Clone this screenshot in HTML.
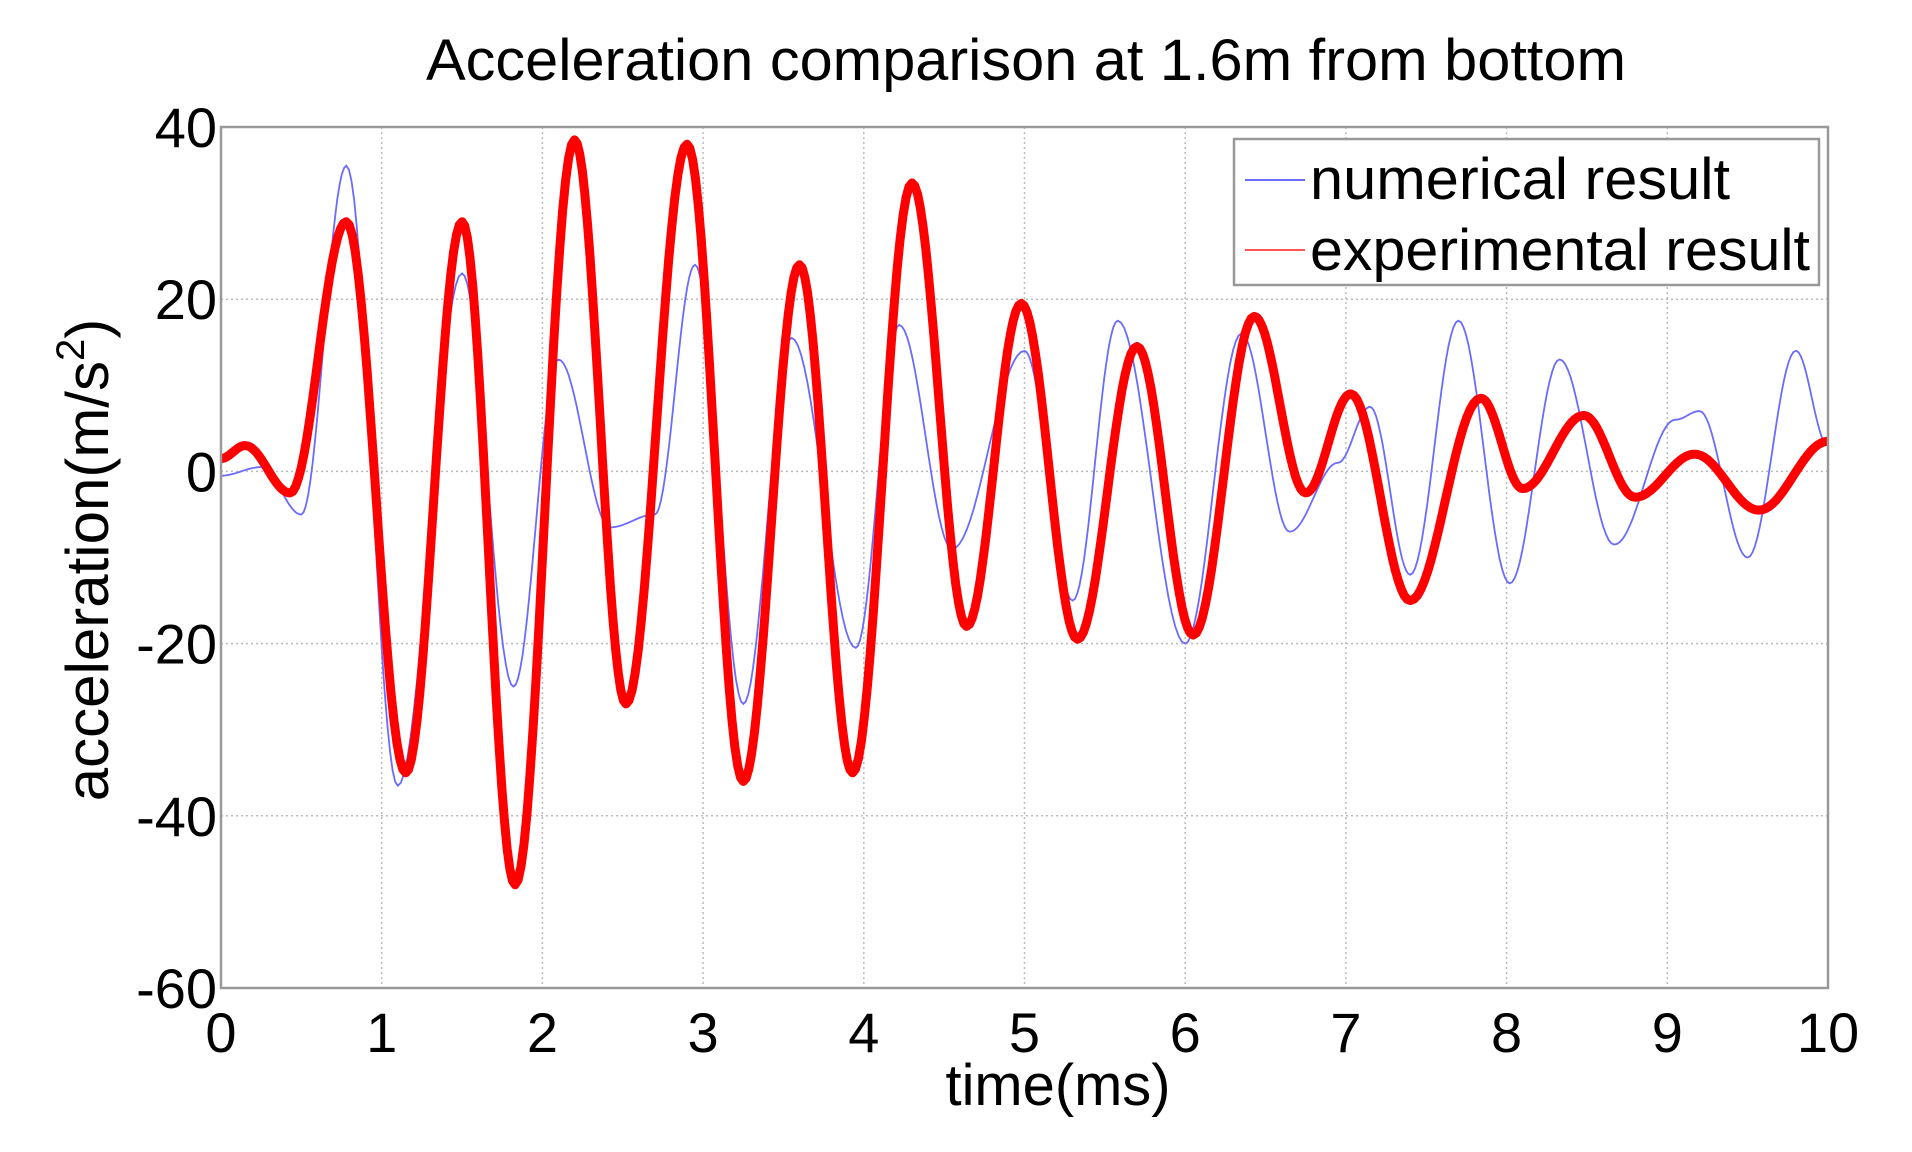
<!DOCTYPE html>
<html><head><meta charset="utf-8"><style>
html,body{margin:0;padding:0;background:#fff;}
svg{display:block;font-family:"Liberation Sans",Arial,sans-serif;}
</style></head><body>
<svg id="s" width="1912" height="1152" viewBox="0 0 1912 1152" xmlns="http://www.w3.org/2000/svg">
<rect width="1912" height="1152" fill="#fff"/>
<text x="1026" y="80" font-size="58" text-anchor="middle" fill="#000" textLength="1200" lengthAdjust="spacingAndGlyphs">Acceleration comparison at 1.6m from bottom</text>
<g id="grid" stroke="#bbb" stroke-width="1.5" stroke-dasharray="2,3"></g>
<g id="ticks" font-size="56" fill="#000"></g>
<text x="1058" y="1105" font-size="58" text-anchor="middle" textLength="225" lengthAdjust="spacingAndGlyphs">time(ms)</text>
<text transform="translate(108,560) rotate(-90)" font-size="60" text-anchor="middle">acceleration(m/s<tspan dy="-24" font-size="40">2</tspan><tspan dy="24">)</tspan></text>
<path id="blue" fill="none" stroke="#6b6bff" stroke-width="1.8"/>
<path id="red" fill="none" stroke="#ff0000" stroke-width="9" stroke-linejoin="round"/>
<rect x="221" y="127" width="1607" height="861" fill="none" stroke="#999" stroke-width="2.5"/>
<rect x="1234" y="139" width="585" height="146" fill="#fff" stroke="#999" stroke-width="2.5"/>
<line x1="1245" y1="180" x2="1305" y2="180" stroke="#6b6bff" stroke-width="2"/>
<line x1="1245" y1="250" x2="1305" y2="250" stroke="#ff5555" stroke-width="2"/>
<text x="1310" y="199" font-size="58" textLength="420" lengthAdjust="spacingAndGlyphs">numerical result</text>
<text x="1310" y="270" font-size="58" textLength="500" lengthAdjust="spacingAndGlyphs">experimental result</text>
</svg>
<script>
var L=221,R=1828,T=127,B=988;
function X(t){return L+t*(R-L)/10;}
function Y(v){return T+(40-v)*(B-T)/100;}
var ns="http://www.w3.org/2000/svg";
var g=document.getElementById('grid'),tk=document.getElementById('ticks');
function el(p,tag,a,txt){var e=document.createElementNS(ns,tag);for(var k in a)e.setAttribute(k,a[k]);if(txt!=null)e.textContent=txt;p.appendChild(e);}
for(var i=1;i<10;i++){el(g,'line',{x1:X(i),x2:X(i),y1:T,y2:B});}
for(var v=-40;v<=20;v+=20){el(g,'line',{x1:L,x2:R,y1:Y(v),y2:Y(v)});}
for(var i=0;i<=10;i++){el(tk,'text',{x:X(i),y:1052,'text-anchor':'middle'},i);}
for(var v=-60;v<=40;v+=20){el(tk,'text',{x:217,y:Y(v)+20,'text-anchor':'end'},v);}
function path(pts){var d='';for(var i=0;i<pts.length-1;i++){var a=pts[i],b=pts[i+1];for(var k=0;k<=20;k++){var f=k/20,t=a[0]+(b[0]-a[0])*f,w=(1-Math.cos(Math.PI*f))/2,v=a[1]+(b[1]-a[1])*w;d+=(d?'L':'M')+X(t).toFixed(1)+','+Y(v).toFixed(1);}}return d;}
var red=[[0,1.5],[0.15,3],[0.43,-2.5],[0.78,29],[1.15,-35],[1.5,29],[1.83,-48],[2.2,38.5],[2.52,-27],[2.9,38],[3.25,-36],[3.6,24],[3.93,-35],[4.3,33.5],[4.64,-18],[4.98,19.5],[5.33,-19.5],[5.7,14.5],[6.05,-19],[6.43,18],[6.75,-2.5],[7.03,9],[7.4,-15],[7.84,8.5],[8.1,-2],[8.48,6.5],[8.8,-3],[9.17,2],[9.57,-4.5],[10,3.5]];
var blue=[[0,-0.5],[0.25,0.5],[0.5,-5],[0.78,35.5],[1.1,-36.5],[1.5,23],[1.82,-25],[2.1,13],[2.42,-6.5],[2.7,-5],[2.95,24],[3.25,-27],[3.55,15.5],[3.95,-20.5],[4.22,17],[4.55,-9],[5.0,14],[5.3,-15],[5.58,17.5],[6.0,-20],[6.35,16],[6.65,-7],[6.95,1],[7.15,7.5],[7.4,-12],[7.7,17.5],[8.02,-13],[8.33,13],[8.67,-8.5],[9.05,6],[9.2,7],[9.5,-10],[9.8,14],[10,3]];
document.getElementById('red').setAttribute('d',path(red));
document.getElementById('blue').setAttribute('d',path(blue));
</script>
</body></html>
